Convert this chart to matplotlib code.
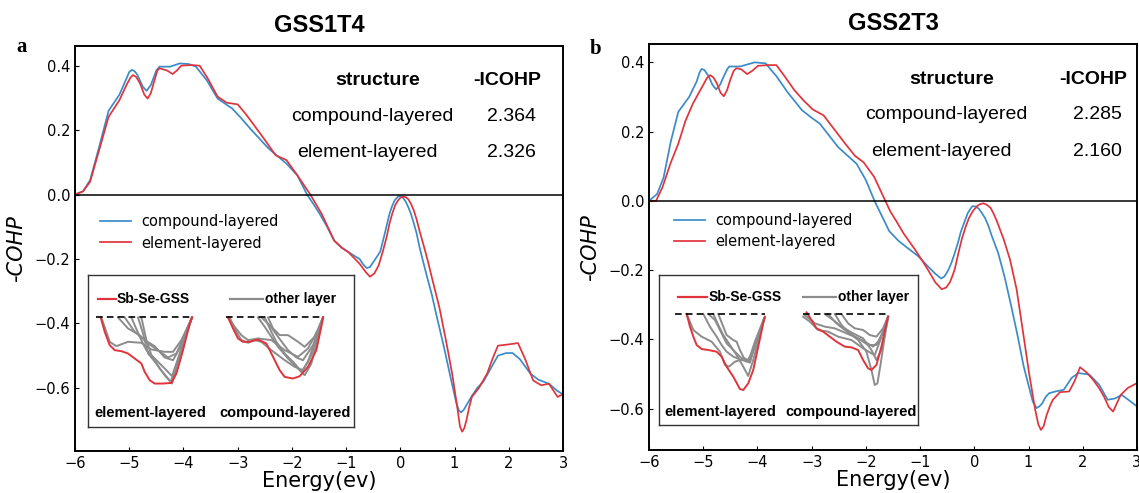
import matplotlib
matplotlib.use('Agg')
from matplotlib import pyplot as plt

# ---- main COHP curves ----
# GSS1T4, compound-layered
a_cmp_x = [-6.0, -5.85, -5.72, -5.55, -5.38, -5.18, -5.05, -5.0, -4.95, -4.9, -4.85, -4.75, -4.68,
           -4.6, -4.5, -4.44, -4.24, -4.07, -3.9, -3.77, -3.57, -3.37, -3.1, -2.95, -2.77, -2.43,
           -2.1, -1.9, -1.72, -1.6, -1.49, -1.35, -1.22, -1.08, -0.95, -0.85, -0.75, -0.68, -0.62,
           -0.56, -0.5, -0.42, -0.37, -0.3, -0.25, -0.2, -0.15, -0.1, -0.04, 0.0, 0.05, 0.1, 0.15,
           0.2, 0.25, 0.3, 0.35, 0.42, 0.5, 0.58, 0.66, 0.8, 0.93, 1.03, 1.08, 1.12, 1.17, 1.25,
           1.32, 1.42, 1.53, 1.65, 1.8, 1.95, 2.07, 2.2, 2.4, 2.55, 2.74, 2.9, 3.0]
a_cmp_y = [0.0, 0.01, 0.045, 0.15, 0.26, 0.31, 0.36, 0.38, 0.387, 0.383, 0.372, 0.335, 0.322,
           0.34, 0.385, 0.397, 0.397, 0.407, 0.405, 0.397, 0.355, 0.298, 0.267, 0.24, 0.205, 0.143,
           0.096, 0.06, 0.0, -0.03, -0.059, -0.1, -0.143, -0.165, -0.179, -0.19, -0.2, -0.218,
           -0.228, -0.225, -0.21, -0.19, -0.177, -0.13, -0.095, -0.06, -0.035, -0.017, -0.006,
           -0.005, -0.01, -0.022, -0.04, -0.062, -0.09, -0.12, -0.16, -0.208, -0.26, -0.31, -0.37,
           -0.47, -0.57, -0.645, -0.67, -0.676, -0.668, -0.645, -0.625, -0.6, -0.581, -0.545,
           -0.5, -0.492, -0.492, -0.51, -0.556, -0.575, -0.587, -0.61, -0.62]
# GSS1T4, element-layered
a_ele_x = [-6.0, -5.85, -5.72, -5.55, -5.38, -5.18, -5.05, -4.98, -4.93, -4.87, -4.8, -4.72, -4.66,
           -4.6, -4.55, -4.48, -4.44, -4.3, -4.2, -4.12, -4.04, -3.85, -3.7, -3.55, -3.37, -3.2,
           -3.0, -2.85, -2.7, -2.5, -2.3, -2.1, -1.9, -1.66, -1.45, -1.22, -1.08, -0.95, -0.75,
           -0.64, -0.56, -0.48, -0.4, -0.32, -0.25, -0.2, -0.15, -0.1, -0.05, 0.0, 0.05, 0.1, 0.15,
           0.2, 0.25, 0.3, 0.35, 0.4, 0.45, 0.51, 0.6, 0.72, 0.85, 0.96, 1.05, 1.1, 1.14, 1.18,
           1.22, 1.27, 1.32, 1.45, 1.6, 1.7, 1.8, 2.0, 2.17, 2.3, 2.45, 2.6, 2.74, 2.9, 3.0]
a_ele_y = [0.0, 0.01, 0.04, 0.14, 0.241, 0.293, 0.34, 0.362, 0.371, 0.365, 0.345, 0.31, 0.298,
           0.315, 0.345, 0.385, 0.392, 0.385, 0.374, 0.385, 0.4, 0.402, 0.4, 0.36, 0.304, 0.285,
           0.28, 0.25, 0.216, 0.17, 0.122, 0.107, 0.06, 0.0, -0.06, -0.143, -0.165, -0.18, -0.215,
           -0.24, -0.255, -0.245, -0.22, -0.175, -0.13, -0.09, -0.06, -0.035, -0.02, -0.01, -0.006,
           -0.008, -0.015, -0.03, -0.05, -0.077, -0.11, -0.14, -0.17, -0.208, -0.27, -0.35, -0.46,
           -0.56, -0.66, -0.72, -0.736, -0.725, -0.7, -0.66, -0.628, -0.6, -0.556, -0.51, -0.469,
           -0.465, -0.461, -0.51, -0.577, -0.592, -0.587, -0.628, -0.62]

# GSS2T3, compound-layered
b_cmp_x = [-6.0, -5.85, -5.73, -5.6, -5.46, -5.26, -5.12, -5.07, -5.03, -4.98, -4.9, -4.83, -4.76,
           -4.69, -4.62, -4.55, -4.52, -4.32, -4.05, -3.85, -3.65, -3.45, -3.18, -3.0, -2.85, -2.51,
           -2.17, -2.0, -1.84, -1.7, -1.57, -1.4, -1.23, -1.03, -0.85, -0.72, -0.61, -0.55, -0.48,
           -0.42, -0.36, -0.3, -0.25, -0.18, -0.12, -0.06, -0.03, 0.02, 0.08, 0.14, 0.2, 0.26,
           0.32, 0.38, 0.44, 0.5, 0.56, 0.68, 0.8, 0.91, 1.03, 1.08, 1.15, 1.2, 1.25, 1.32, 1.38,
           1.5, 1.65, 1.8, 1.92, 2.12, 2.3, 2.46, 2.6, 2.72, 2.85, 3.0]
b_cmp_y = [0.0, 0.02, 0.068, 0.17, 0.257, 0.3, 0.345, 0.37, 0.381, 0.378, 0.36, 0.335, 0.322, 0.335,
           0.36, 0.382, 0.388, 0.388, 0.4, 0.397, 0.36, 0.315, 0.262, 0.24, 0.223, 0.155, 0.107,
           0.06, 0.0, -0.045, -0.087, -0.115, -0.136, -0.16, -0.19, -0.21, -0.224, -0.218, -0.2,
           -0.178, -0.15, -0.12, -0.09, -0.06, -0.035, -0.02, -0.015, -0.016, -0.022, -0.035, -0.05,
           -0.072, -0.1, -0.125, -0.15, -0.185, -0.22, -0.303, -0.39, -0.477, -0.55, -0.58, -0.598,
           -0.593, -0.585, -0.565, -0.555, -0.55, -0.545, -0.51, -0.497, -0.501, -0.53, -0.574,
           -0.57, -0.56, -0.575, -0.593]
# GSS2T3, element-layered
b_ele_x = [-6.0, -5.87, -5.75, -5.6, -5.46, -5.33, -5.19, -5.0, -4.93, -4.87, -4.81, -4.75, -4.68,
           -4.62, -4.56, -4.5, -4.44, -4.39, -4.3, -4.19, -4.1, -3.99, -3.8, -3.65, -3.5, -3.32,
           -3.15, -2.98, -2.78, -2.6, -2.38, -2.2, -2.04, -1.85, -1.64, -1.55, -1.44, -1.3, -1.1,
           -0.95, -0.85, -0.72, -0.6, -0.52, -0.45, -0.4, -0.36, -0.3, -0.23, -0.16, -0.1, -0.03,
           0.05, 0.11, 0.17, 0.23, 0.3, 0.36, 0.42, 0.48, 0.54, 0.6, 0.66, 0.78, 0.9, 1.01, 1.12,
           1.18, 1.23, 1.28, 1.33, 1.4, 1.45, 1.58, 1.75, 1.85, 1.95, 2.07, 2.19, 2.3, 2.39, 2.48,
           2.56, 2.7, 2.83, 3.0]
b_ele_y = [0.0, 0.0, 0.04, 0.11, 0.165, 0.23, 0.281, 0.335, 0.355, 0.363, 0.356, 0.34, 0.312,
           0.302, 0.32, 0.35, 0.375, 0.383, 0.38, 0.366, 0.375, 0.39, 0.392, 0.392, 0.36, 0.32,
           0.29, 0.264, 0.247, 0.21, 0.165, 0.13, 0.111, 0.07, 0.0, -0.03, -0.058, -0.095, -0.139,
           -0.175, -0.2, -0.235, -0.255, -0.25, -0.235, -0.215, -0.197, -0.155, -0.11, -0.075,
           -0.05, -0.03, -0.015, -0.009, -0.007, -0.011, -0.02, -0.038, -0.06, -0.085, -0.11,
           -0.14, -0.17, -0.255, -0.38, -0.497, -0.6, -0.645, -0.661, -0.65, -0.62, -0.59, -0.574,
           -0.552, -0.55, -0.52, -0.48, -0.495, -0.516, -0.54, -0.564, -0.595, -0.608, -0.56,
           -0.54, -0.526]

# ICOHP tables
table_rows = ['compound-layered', 'element-layered']
a_icohp = ['2.364', '2.326']
b_icohp = ['2.285', '2.160']

# ---- inset sketches (inset pixel units, y grows downward) ----
# GSS1T4 inset
a_in_red_el = [(48, 142), (60, 185), (75, 225), (90, 240), (110, 243), (130, 250), (150, 265),
               (170, 280), (180, 305), (195, 330), (210, 340), (235, 340), (260, 338), (275, 310),
               (295, 240), (315, 160), (322, 142)]
a_in_gray_el = [
    [(50, 142), (75, 215), (95, 228), (130, 215), (170, 218), (200, 238), (240, 245), (265, 245), (290, 210), (322, 142)],
    [(120, 142), (150, 185), (180, 210), (210, 228), (240, 262), (265, 270), (290, 225), (322, 142)],
    [(140, 142), (165, 200), (185, 240), (215, 270), (245, 300), (262, 318), (285, 250), (322, 142)],
    [(160, 142), (175, 190), (190, 250), (215, 280), (240, 315), (258, 335), (280, 270), (305, 190), (322, 142)],
    [(170, 142), (185, 210), (200, 255), (225, 295), (250, 325), (262, 340), (285, 255), (322, 142)],
    [(100, 142), (130, 175), (165, 195), (190, 220), (220, 240), (250, 262), (275, 250), (300, 195), (322, 142)],
]
a_in_red_cp = [(430, 142), (445, 175), (460, 205), (475, 215), (495, 215), (520, 208), (545, 220),
               (565, 260), (585, 300), (600, 320), (625, 325), (645, 318), (670, 290), (695, 240),
               (712, 160), (715, 142)]
a_in_gray_cp = [
    [(435, 142), (455, 185), (470, 210), (490, 218), (510, 210), (530, 215), (560, 240), (600, 270), (630, 290), (655, 300), (680, 255), (715, 142)],
    [(430, 142), (450, 170), (470, 195), (490, 210), (520, 205), (560, 210), (600, 240), (640, 260), (670, 235), (700, 180), (715, 142)],
    [(520, 142), (540, 170), (560, 200), (580, 230), (610, 265), (640, 295), (660, 315), (680, 280), (715, 142)],
    [(540, 142), (560, 185), (575, 215), (600, 250), (630, 280), (650, 305), (670, 275), (715, 142)],
    [(550, 142), (565, 175), (585, 195), (610, 195), (640, 215), (660, 230), (690, 200), (715, 142)],
    [(530, 142), (555, 165), (580, 200), (610, 240), (635, 262), (655, 270), (685, 225), (715, 142)],
]
# GSS2T3 inset
b_in_red_el = [(95, 132), (105, 170), (115, 200), (125, 225), (140, 237), (160, 240), (185, 245),
               (200, 260), (215, 290), (235, 320), (255, 357), (265, 360), (280, 340), (295, 300),
               (310, 230), (325, 160), (330, 140)]
b_in_gray_el = [
    [(95, 132), (115, 180), (140, 200), (170, 215), (195, 245), (210, 285), (222, 290), (240, 275), (270, 265), (285, 275), (300, 220), (328, 145)],
    [(145, 132), (165, 170), (185, 200), (200, 225), (215, 245), (235, 260), (260, 270), (280, 275), (300, 215), (328, 145)],
    [(175, 132), (190, 165), (205, 195), (225, 225), (245, 255), (265, 290), (280, 318), (295, 270), (328, 145)],
    [(190, 132), (205, 170), (215, 195), (235, 210), (245, 215), (255, 240), (270, 270), (285, 278), (305, 210), (328, 145)],
    [(160, 132), (180, 150), (195, 180), (215, 220), (235, 240), (255, 260), (275, 275), (295, 245), (328, 145)],
]
b_in_red_cp = [(455, 127), (470, 150), (485, 175), (505, 185), (525, 200), (545, 215), (570, 230),
               (590, 232), (610, 240), (625, 270), (640, 295), (650, 300), (665, 285), (680, 230),
               (695, 160), (700, 140)]
b_in_gray_cp = [
    [(445, 140), (465, 155), (490, 180), (520, 185), (550, 200), (590, 210), (625, 235), (650, 250), (660, 255), (675, 215), (700, 140)],
    [(450, 135), (480, 160), (510, 170), (540, 175), (575, 190), (610, 205), (640, 225), (665, 225), (685, 185), (700, 140)],
    [(520, 132), (545, 160), (570, 180), (600, 200), (630, 215), (655, 230), (675, 210), (700, 140)],
    [(540, 132), (560, 165), (585, 190), (610, 210), (635, 245), (650, 300), (660, 345), (668, 340), (678, 280), (690, 200), (700, 140)],
    [(560, 132), (580, 160), (600, 175), (625, 180), (645, 195), (665, 200), (685, 175), (700, 140)],
    [(510, 132), (535, 150), (560, 170), (595, 190), (625, 205), (650, 240), (665, 270), (680, 240), (700, 145)],
]

BLUE = '#3a8cc9'
RED = '#e0343d'
GRAY = '#8c8c8c'
SANS = 'Liberation Sans'

fig = plt.figure(figsize=(11.39, 4.93), dpi=100)


def draw_panel(rect, title, letter, cmp_xy, ele_xy, ylim, icohp, val_x, letter_xy):
    ax = fig.add_axes(rect)
    ax.plot(cmp_xy[0], cmp_xy[1], color=BLUE, lw=1.25, label='compound-layered')
    ax.plot(ele_xy[0], ele_xy[1], color=RED, lw=1.25, label='element-layered')
    ax.axhline(0, color='black', lw=1.1)
    ax.set_xlim(-6, 3)
    ax.set_ylim(*ylim)
    ax.set_xticks(range(-6, 4))
    ax.set_yticks([-0.6, -0.4, -0.2, 0.0, 0.2, 0.4])
    ax.tick_params(direction='in', length=3, labelsize=10.5)
    for s in ax.spines.values():
        s.set_linewidth(1.4)
    ax.set_xlabel('Energy(ev)', fontsize=15, labelpad=0)
    ax.set_ylabel('-COHP', fontsize=15, style='italic')
    ax.yaxis.set_label_coords(-0.1, 0.5)
    ax.set_title(title, fontsize=17, fontweight='bold', family=SANS, pad=10)
    ax.legend(loc='upper left', bbox_to_anchor=(0.025, 0.617), frameon=False,
              fontsize=10.5, handlelength=2.1, handletextpad=0.7, labelspacing=0.45)
    # ICOHP table
    ax.text(0.62, 0.913, 'structure', transform=ax.transAxes, ha='center', va='center',
            fontsize=14, fontweight='bold', family=SANS)
    ax.text(val_x - 0.01, 0.913, '-ICOHP', transform=ax.transAxes, ha='center', va='center',
            fontsize=14, fontweight='bold', family=SANS)
    for i, (name, val) in enumerate(zip(table_rows, icohp)):
        yy = 0.826 - i * 0.089
        ax.text(0.61 - i * 0.011, yy, name, transform=ax.transAxes, ha='center', va='center',
                fontsize=14, family=SANS)
        ax.text(val_x, yy, val, transform=ax.transAxes,
                ha='center', va='center', fontsize=14, family=SANS)
    fig.text(letter_xy[0], letter_xy[1], letter, fontsize=15, fontweight='bold',
             family='Liberation Serif', ha='center', va='center')
    return ax


def draw_inset(rect, box, red_el, gray_el, red_cp, gray_cp, dash_el, dash_cp, leg):
    ins = fig.add_axes(rect)
    ins.set_xlim(box[0], box[2])
    ins.set_ylim(box[3], box[1])
    ins.set_xticks([])
    ins.set_yticks([])
    for s in ins.spines.values():
        s.set_linewidth(1.0)
        s.set_color('#333333')
    for curve in gray_el + gray_cp:
        xs, ys = zip(*curve)
        ins.plot(xs, ys, color=GRAY, lw=1.4)
    for curve in (red_el, red_cp):
        xs, ys = zip(*curve)
        ins.plot(xs, ys, color=RED, lw=1.4)
    ins.plot(dash_el[:2], [dash_el[2]] * 2, color='black', lw=1.2, ls=(0, (4, 2.5)))
    ins.plot(dash_cp[:2], [dash_cp[2]] * 2, color='black', lw=1.2, ls=(0, (4, 2.5)))
    # little legend
    ins.plot(leg[0][:2], [leg[2]] * 2, color=RED, lw=1.6)
    ins.plot(leg[1][:2], [leg[2]] * 2, color=GRAY, lw=1.6)
    ins.text(leg[0][2], leg[2], 'Sb-Se-GSS', fontsize=10, fontweight='bold', family=SANS,
             va='center', ha='left')
    ins.text(leg[1][2], leg[2], 'other layer', fontsize=10, fontweight='bold', family=SANS,
             va='center', ha='left')
    ins.text(0.235, 0.09, 'element-layered', transform=ins.transAxes, fontsize=10.5,
             fontweight='bold', family=SANS, ha='center', va='center')
    ins.text(0.74, 0.09, 'compound-layered', transform=ins.transAxes, fontsize=10.5,
             fontweight='bold', family=SANS, ha='center', va='center')


draw_panel([0.0658, 0.0858, 0.4285, 0.8215], 'GSS1T4', 'a', (a_cmp_x, a_cmp_y), (a_ele_x, a_ele_y),
           (-0.795, 0.462), a_icohp, 0.895, (0.019, 0.905))
draw_panel([0.5698, 0.0872, 0.4284, 0.8229], 'GSS2T3', 'b', (b_cmp_x, b_cmp_y), (b_ele_x, b_ele_y),
           (-0.719, 0.452), b_icohp, 0.92, (0.523, 0.9))

draw_inset([0.0773, 0.1339, 0.2335, 0.3083], (10, 15, 808, 470),
           a_in_red_el, a_in_gray_el, a_in_red_cp, a_in_gray_cp,
           (35, 322, 142), (425, 715, 142), ((40, 95, 97), (435, 535, 540), 88))
draw_inset([0.5786, 0.1379, 0.2274, 0.3043], (12, 15, 790, 465),
           b_in_red_el, b_in_gray_el, b_in_red_cp, b_in_gray_cp,
           (60, 330, 132), (445, 700, 132), ((70, 155, 162), (445, 545, 550), 80))

plt.savefig('out.png', dpi=100)
